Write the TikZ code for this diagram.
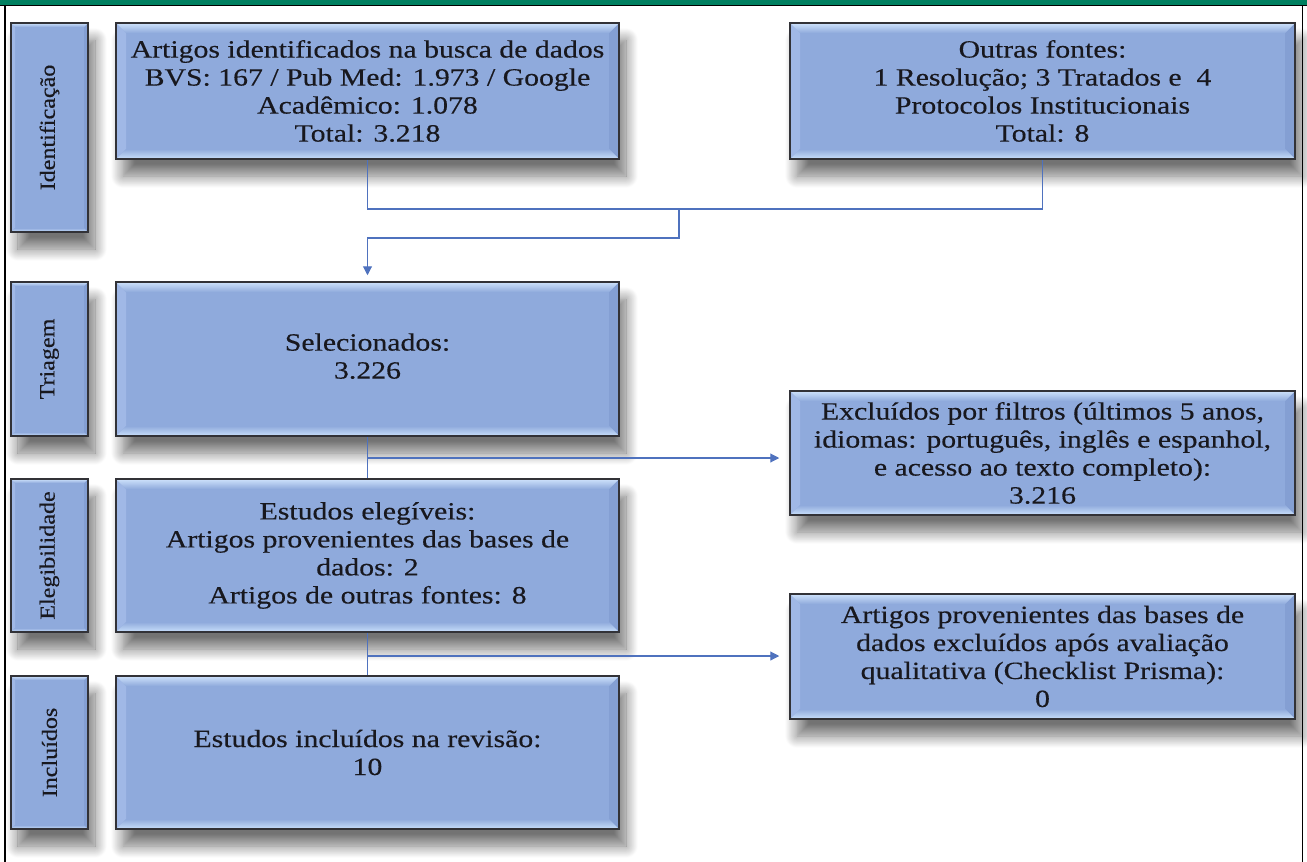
\documentclass[tikz,border=0pt]{standalone}
\usepackage{graphicx}
\usepackage{fontspec}
\setmainfont[FakeStretch=1.2,FakeBold=0.35]{Liberation Serif}
\newfontfamily\labfont[FakeStretch=1.12,FakeBold=0.35]{Liberation Serif}
\usetikzlibrary{arrows.meta,shadows.blur,calc}
\definecolor{framegreen}{RGB}{0,128,96}
\definecolor{boxfill}{RGB}{143,170,220}
\definecolor{bevtop}{RGB}{206,226,251}
\definecolor{bevbot}{RGB}{202,224,251}
\definecolor{bevleft}{RGB}{160,184,230}
\definecolor{bevright}{RGB}{132,159,211}
\definecolor{edgegray}{RGB}{50,50,55}
\definecolor{connblue}{RGB}{79,114,190}
\definecolor{txt}{RGB}{24,24,30}
\tikzset{
  bevel/.style={path picture={
    \fill[bevleft] (path picture bounding box.north west)
      -- ([xshift=#1,yshift=-#1]path picture bounding box.north west)
      -- ([xshift=#1,yshift=#1]path picture bounding box.south west)
      -- (path picture bounding box.south west) -- cycle;
    \fill[bevright] (path picture bounding box.north east)
      -- ([xshift=-#1,yshift=-#1]path picture bounding box.north east)
      -- ([xshift=-#1,yshift=#1]path picture bounding box.south east)
      -- (path picture bounding box.south east) -- cycle;
    \shade[top color=bevtop,bottom color=boxfill] (path picture bounding box.north west)
      -- (path picture bounding box.north east)
      -- ([xshift=-#1,yshift=-#1]path picture bounding box.north east)
      -- ([xshift=#1,yshift=-#1]path picture bounding box.north west) -- cycle;
    \shade[top color=boxfill,bottom color=bevbot] (path picture bounding box.south west)
      -- (path picture bounding box.south east)
      -- ([xshift=-#1,yshift=#1]path picture bounding box.south east)
      -- ([xshift=#1,yshift=#1]path picture bounding box.south west) -- cycle;
  }},
  box/.style={draw=edgegray, line width=1.5pt, fill=boxfill, inner sep=0pt,
    align=center, text=txt, font=\fontsize{24.8}{28}\selectfont,
    blur shadow={shadow xshift=7pt, shadow yshift=-17pt, shadow blur radius=12pt,
      shadow blur steps=14, shadow opacity=55},
    bevel=10pt},
  lab/.style={box, bevel=4pt, font=\labfont\fontsize{21.5}{24}\selectfont},
  conn/.style={draw=connblue, line width=1.1pt},
  arr/.style={conn, -{Triangle[length=9pt,width=9pt]}},
}
\begin{document}
\begin{tikzpicture}[x=1pt,y=-1pt]
\useasboundingbox (0,0) rectangle (1307,862);
% frame
\fill[framegreen] (0,0) rectangle (1307,5);
\draw[black, line width=1.3pt] (0,5.2) -- (1307,5.2);
\draw[black, line width=1.3pt] (5,5.2) -- (5,862);
\draw[black, line width=1.3pt] (1302.5,5.2) -- (1302.5,862);

% stage labels
\node[lab, minimum width=77pt, minimum height=209pt] (L1) at (49.5,127.5) {\rotatebox{90}{Identificação}};
\node[lab, minimum width=77pt, minimum height=154pt] (L2) at (49.5,359) {\rotatebox{90}{Triagem}};
\node[lab, minimum width=77pt, minimum height=153pt] (L3) at (49.5,555.5) {\rotatebox{90}{Elegibilidade}};
\node[lab, minimum width=77pt, minimum height=153pt] (L4) at (49.5,752.5) {\rotatebox{90}{Incluídos}};

% main boxes
\node[box, minimum width=503pt, minimum height=136pt] (B1) at (367.5,91)
  {Artigos identificados na busca de dados\\BVS: 167 / Pub Med: 1.973 / Google\\Acadêmico: 1.078\\Total: 3.218};
\node[box, minimum width=505pt, minimum height=136pt] (R1) at (1042.5,91)
  {Outras fontes:\\1 Resolução; 3 Tratados e\ \ 4\\Protocolos Institucionais\\Total: 8};
\node[box, minimum width=503pt, minimum height=154pt] (B2) at (367.5,359)
  {\raisebox{6pt}{\begin{tabular}{@{}c@{}}Selecionados:\\3.226\end{tabular}}};
\node[box, minimum width=505pt, minimum height=124pt] (R2) at (1042.5,453)
  {Excluídos por filtros (últimos 5 anos,\\idiomas: português, inglês e espanhol,\\e acesso ao texto completo):\\3.216};
\node[box, minimum width=503pt, minimum height=153pt] (B3) at (367.5,555.5)
  {Estudos elegíveis:\\Artigos provenientes das bases de\\dados: 2\\Artigos de outras fontes: 8};
\node[box, minimum width=505pt, minimum height=125pt] (R3) at (1042.5,656.5)
  {Artigos provenientes das bases de\\dados excluídos após avaliação\\qualitativa (Checklist Prisma):\\0};
\node[box, minimum width=503pt, minimum height=153pt] (B4) at (367.5,752.5)
  {Estudos incluídos na revisão:\\10};

% connectors
\coordinate (j1) at (679,209);
\coordinate (j2) at (679,238);
\coordinate (k1) at (367.5,458);
\coordinate (k2) at (367.5,656);
\draw[conn] (B1.south) |- (j1) -| (R1.south);
\draw[arr, shorten >=6pt] (j1) -- (j2) -| (B2.north);
\draw[conn] (B2.south) -- (B3.north);
\draw[arr, shorten >=10pt] (k1) -- (k1 -| R2.west);
\draw[conn] (B3.south) -- (B4.north);
\draw[arr, shorten >=10pt] (k2) -- (k2 -| R3.west);
\end{tikzpicture}
\end{document}
